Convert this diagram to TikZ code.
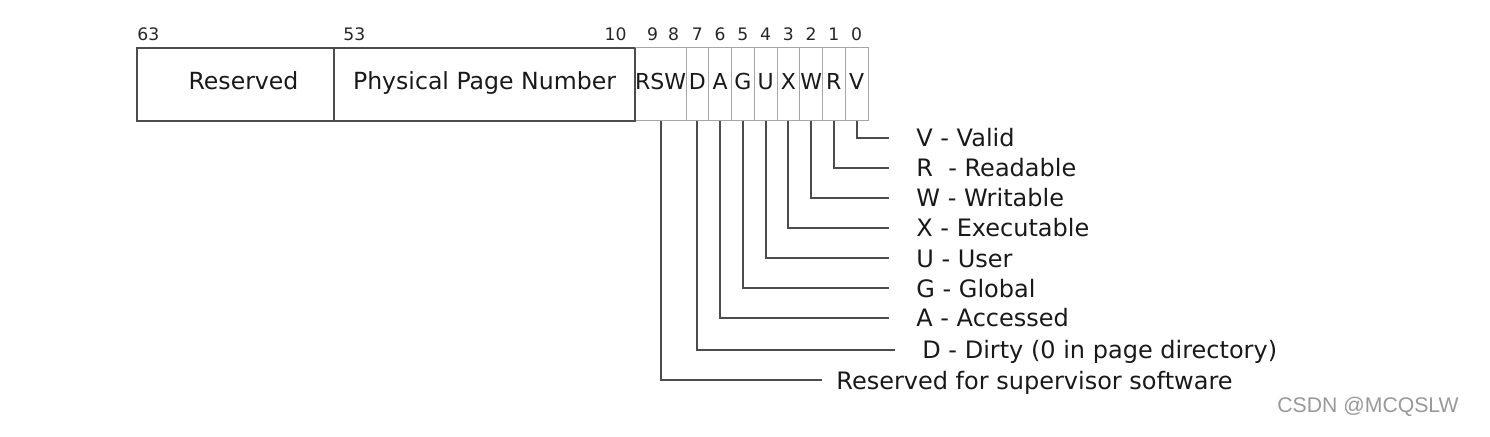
\documentclass[tikz,border=0pt]{standalone}
\usepackage{fontspec}
\setmainfont{DejaVu Sans}
\newfontfamily\wmfont{Liberation Sans}
\usetikzlibrary{positioning}

\begin{document}
\begin{tikzpicture}[x=0.5pt,y=-0.5pt,node distance=0pt,
				field/.style={draw=black!70,line width=1pt,outer sep=0pt,inner sep=0pt,minimum height=36.5pt,
					text height=8.9pt,text depth=3.5pt,font=\fontsize{11.8}{14}\selectfont,text=black!90},
				bitcell/.style={draw=black!35,line width=0.5pt,outer sep=0pt,inner sep=0pt,minimum width=11.375pt,minimum height=36.5pt,
					text height=8.9pt,text depth=3.5pt,font=\fontsize{11}{13}\selectfont,text=black!90},
				bitnum/.style={inner sep=0pt,font=\fontsize{8.6}{10}\selectfont,text=black!85},
				flag/.style={anchor=west,inner xsep=13.5pt,inner ysep=0pt,text height=9pt,text depth=0pt,
					font=\fontsize{12}{14}\selectfont,text=black!90},
				lead/.style={draw=black!70,line width=1pt},
				wmark/.style={anchor=west,inner sep=0pt,font=\wmfont\fontsize{10.6}{12}\selectfont,text=black!40}]
				\useasboundingbox (0,0) rectangle (1490,437);
				% entry fields
				\node (RES) [field,minimum width=98.5pt,anchor=north west] at (137,48) {\hspace*{8pt}Reserved};
				\node (PPN) [field,minimum width=150.5pt,right=of RES]  {Physical Page Number};
				\node (RSW) [bitcell,minimum width=25pt,right=of PPN]   {RSW};
				\node (D)   [bitcell,right=of RSW] {D};
				\node (A)   [bitcell,right=of D]   {A};
				\node (G)   [bitcell,right=of A]   {G};
				\node (U)   [bitcell,right=of G]   {U};
				\node (X)   [bitcell,right=of U]   {X};
				\node (W)   [bitcell,right=of X]   {W};
				\node (R)   [bitcell,right=of W]   {R};
				\node (V)   [bitcell,right=of R]   {V};
				\draw[draw=black!70,line width=1pt] (PPN.north east) -- (PPN.south east);
				
				% bit numbers
				\node (N63) [bitnum,above right=3.6pt and 0pt of RES.north west]  {63};
				\node (N53) [bitnum,above right=3.6pt and 4.5pt of PPN.north west] {53};
				\node (N10) [bitnum,above left=3.6pt and 4pt of PPN.north east]    {10};
				\node (N9)  [bitnum,above=3.6pt of RSW.north,xshift=-4pt]  {9};
				\node (N8)  [bitnum,above=3.6pt of RSW.north,xshift=6.5pt] {8};
				\node (N7)  [bitnum,above=3.6pt of D.north] {7};
				\node (N6)  [bitnum,above=3.6pt of A.north] {6};
				\node (N5)  [bitnum,above=3.6pt of G.north] {5};
				\node (N4)  [bitnum,above=3.6pt of U.north] {4};
				\node (N3)  [bitnum,above=3.6pt of X.north] {3};
				\node (N2)  [bitnum,above=3.6pt of W.north] {2};
				\node (N1)  [bitnum,above=3.6pt of R.north] {1};
				\node (N0)  [bitnum,above=3.6pt of V.north] {0};
				
				% flag legend
				\node (LV)   [flag] at (889,138)   {V - Valid};
				\node (LR)   [flag] at (889,168)   {R\ \ - Readable};
				\node (LW)   [flag] at (889,198)   {W - Writable};
				\node (LX)   [flag] at (889,228)   {X - Executable};
				\node (LU)   [flag] at (889,258.5) {U - User};
				\node (LG)   [flag] at (889,288.5) {G - Global};
				\node (LA)   [flag] at (889,318)   {A - Accessed};
				\node (LD)   [flag] at (895,350)   {D - Dirty (0 in page directory)};
				\node (LRSW) [flag,inner xsep=7pt] at (822,380.5) {Reserved for supervisor software};
				
				\draw[lead] (V) |- (LV);
				\draw[lead] (R) |- (LR);
				\draw[lead] (W) |- (LW);
				\draw[lead] (X) |- (LX);
				\draw[lead] (U) |- (LU);
				\draw[lead] (G) |- (LG);
				\draw[lead] (A) |- (LA);
				\draw[lead] (D) |- (LD);
				\draw[lead] (RSW) |- (LRSW);
				
				\node (CSDN) [wmark] at (1277,407) {CSDN @MCQSLW};
			\end{tikzpicture}
\end{document}
